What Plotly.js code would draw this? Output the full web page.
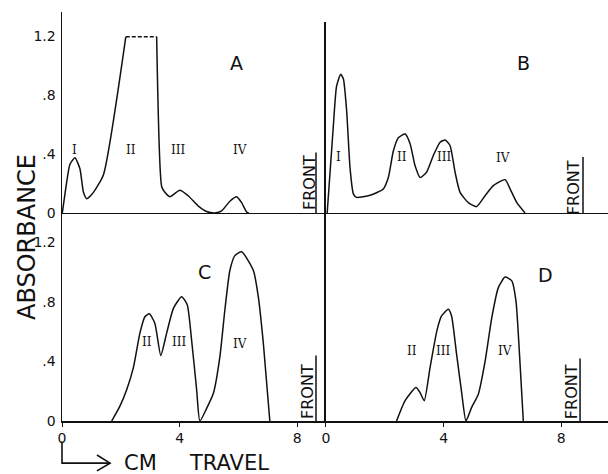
<!DOCTYPE html>
<html>
<head>
<meta charset="utf-8">
<script src="https://cdn.plot.ly/plotly-3.0.1.min.js"></script>
<style>html,body{margin:0;padding:0;background:#fff;}</style>
</head>
<body>
<div id="chart" style="width:608px;height:474px;"></div>
<script>
// ---- Data (cm travel vs absorbance) ----
// Panel A
const aX1 = [0.01, 0.16, 0.27, 0.44, 0.61, 0.73, 0.84, 1.07, 1.41, 2.17];
const aY1 = [0, 0.21, 0.33, 0.375, 0.30, 0.14, 0.097, 0.14, 0.26, 1.195];
const aPlateauX = [2.17, 3.22];
const aPlateauY = [1.195, 1.195];
const aX2 = [3.22, 3.39, 3.50, 3.67, 4.01, 4.30, 4.64, 4.92, 5.20, 5.43, 5.71, 5.94, 6.11, 6.28, 6.35];
const aY2 = [1.195, 0.18, 0.14, 0.11, 0.154, 0.115, 0.047, 0.01, 0, 0.014, 0.08, 0.11, 0.07, 0.007, 0];
// Panel B
const bX = [0.04, 0.25, 0.36, 0.50, 0.59, 0.70, 0.82, 0.93, 1.04, 1.50, 1.95, 2.12, 2.29, 2.46, 2.69, 2.86, 3.03, 3.20, 3.42, 3.65, 3.88, 4.05, 4.22, 4.39, 4.56, 4.84, 5.12, 5.41, 5.69, 6.09, 6.26, 6.49, 6.77];
const bY = [0, 0.59, 0.86, 0.94, 0.91, 0.70, 0.30, 0.13, 0.106, 0.12, 0.163, 0.24, 0.42, 0.51, 0.535, 0.47, 0.32, 0.24, 0.276, 0.39, 0.48, 0.495, 0.456, 0.276, 0.14, 0.07, 0.043, 0.117, 0.185, 0.226, 0.163, 0.07, 0];
// Panel C
const cX = [1.69, 1.97, 2.20, 2.43, 2.65, 2.82, 2.97, 3.16, 3.36, 3.56, 3.79, 4.07, 4.26, 4.41, 4.58, 4.69, 4.92, 5.15, 5.37, 5.54, 5.71, 5.88, 6.11, 6.51, 6.68, 6.85, 7.07];
const cY = [0, 0.10, 0.21, 0.36, 0.59, 0.70, 0.72, 0.655, 0.44, 0.59, 0.756, 0.834, 0.78, 0.54, 0.21, 0, 0.085, 0.186, 0.43, 0.745, 1.01, 1.11, 1.136, 1.01, 0.83, 0.52, 0];
// Panel D
const dX = [2.40, 2.69, 3.06, 3.20, 3.34, 3.54, 3.77, 3.93, 4.16, 4.27, 4.44, 4.62, 4.76, 4.95, 5.18, 5.41, 5.64, 5.86, 6.09, 6.32, 6.46, 6.58, 6.71];
const dY = [0, 0.136, 0.225, 0.19, 0.136, 0.36, 0.605, 0.705, 0.75, 0.705, 0.45, 0.18, 0, 0.09, 0.18, 0.40, 0.695, 0.895, 0.966, 0.94, 0.806, 0.45, 0];
// Solvent front positions (cm) and marker heights
const frontX = {A: 8.64, B: 8.74, C: 8.64, D: 8.64};
const frontH = {A: 0.41, B: 0.38, C: 0.44, D: 0.42};
// Tick labels
const xTickVals = [0, 4, 8];
const xTickText = ['0', '4', '8'];
const yTickVals = [0, 0.4, 0.8, 1.2];
const yTickText = ['0', '.4', '.8', '1.2'];
// Peak labels
const romanA = [{t:'I', x:0.44, y:0.43}, {t:'II', x:2.35, y:0.43}, {t:'III', x:3.96, y:0.43}, {t:'IV', x:6.05, y:0.43}];
const romanB = [{t:'I', x:0.42, y:0.38}, {t:'II', x:2.57, y:0.38}, {t:'III', x:4.01, y:0.38}, {t:'IV', x:6.01, y:0.375}];
const romanC = [{t:'II', x:2.88, y:0.53}, {t:'III', x:3.98, y:0.53}, {t:'IV', x:6.05, y:0.52}];
const romanD = [{t:'II', x:2.91, y:0.47}, {t:'III', x:3.99, y:0.47}, {t:'IV', x:6.09, y:0.47}];

const LINE = {color: '#111', width: 1.5, shape: 'spline', smoothing: 0.55};
function curve(x, y, xa, ya, extra) {
  return Object.assign({x: x, y: y, xaxis: xa, yaxis: ya, type: 'scatter', mode: 'lines',
    line: Object.assign({}, LINE), hoverinfo: 'skip'}, extra || {});
}
function front(fx, h, xa, ya) {
  return {x: [fx, fx], y: [0, h], xaxis: xa, yaxis: ya, type: 'scatter', mode: 'lines',
    line: {color: '#111', width: 1.5}, hoverinfo: 'skip'};
}

const traces = [
  curve(aX1, aY1, 'x3', 'y3'),
  {x: aPlateauX, y: aPlateauY, xaxis: 'x3', yaxis: 'y3', type: 'scatter', mode: 'lines',
   line: {color: '#111', width: 1.7, dash: '4px,2px'}, hoverinfo: 'skip'},
  curve(aX2, aY2, 'x3', 'y3'),
  curve(bX, bY, 'x4', 'y4'),
  curve(cX, cY, 'x', 'y'),
  curve(dX, dY, 'x2', 'y2'),
  front(frontX.A, frontH.A, 'x3', 'y3'),
  front(frontX.B, frontH.B, 'x4', 'y4'),
  front(frontX.C, frontH.C, 'x', 'y'),
  front(frontX.D, frontH.D, 'x2', 'y2')
];

const FONT = 'DejaVu Sans, Liberation Sans, sans-serif';
const axisBase = {showline: true, linecolor: '#111', linewidth: 1.5, showgrid: false, zeroline: false,
  fixedrange: true, tickfont: {family: FONT, size: 14, color: '#111'}};
const LD = [0, 0.4835], RD = [0.4835, 1];
const BD = [0, 0.5086];

const annotations = [];
function romans(list, xa, ya) {
  list.forEach(r => annotations.push({x: r.x, y: r.y, xref: xa, yref: ya, text: r.t, showarrow: false,
    font: {family: 'DejaVu Serif, Liberation Serif, serif', size: 12, color: '#111'}}));
}
romans(romanA, 'x3', 'y3'); romans(romanB, 'x4', 'y4'); romans(romanC, 'x', 'y'); romans(romanD, 'x2', 'y2');
function letter(t, x, y, xa, ya) {
  annotations.push({x: x, y: y, xref: xa, yref: ya, text: t, showarrow: false,
    font: {family: FONT, size: 19, color: '#111'}});
}
letter('A', 5.95, 1.02, 'x3', 'y3');
letter('B', 6.70, 1.02, 'x4', 'y4');
letter('C', 4.86, 1.00, 'x', 'y');
letter('D', 7.45, 0.98, 'x2', 'y2');
function frontText(x, y, xa, ya) {
  annotations.push({x: x, y: y, xref: xa, yref: ya, text: 'FRONT', textangle: -90, showarrow: false,
    xanchor: 'center', yanchor: 'middle', font: {family: FONT, size: 16, color: '#111'}});
}
frontText(8.40, 0.21, 'x3', 'y3');
frontText(8.44, 0.17, 'x4', 'y4');
frontText(8.37, 0.195, 'x', 'y');
frontText(8.33, 0.20, 'x2', 'y2');
annotations.push({x: -0.064, y: 0.45, xref: 'paper', yref: 'paper', text: 'ABSORBANCE', textangle: -90,
  xanchor: 'center', yanchor: 'middle', showarrow: false, font: {family: FONT, size: 24, color: '#111'}});
annotations.push({x: 0.11, y: -0.103, xref: 'paper', yref: 'paper', text: 'CM', xanchor: 'left', yanchor: 'middle',
  showarrow: false, font: {family: FONT, size: 21, color: '#111'}});
annotations.push({x: 0.229, y: -0.103, xref: 'paper', yref: 'paper', text: 'TRAVEL', xanchor: 'left', yanchor: 'middle',
  showarrow: false, font: {family: FONT, size: 21, color: '#111'}});

const layout = {
  width: 608, height: 474,
  margin: {l: 62, r: 0, t: 12, b: 53, pad: 0},
  paper_bgcolor: '#fff', plot_bgcolor: 'rgba(0,0,0,0)',
  showlegend: false,
  xaxis: Object.assign({}, axisBase, {domain: LD, range: [0, 8.98], anchor: 'y', tickvals: xTickVals, ticktext: xTickText, ticks: 'outside', ticklen: 4, tickcolor: '#111'}),
  yaxis: Object.assign({}, axisBase, {domain: BD, range: [0, 1.396], anchor: 'x', tickvals: yTickVals, ticktext: yTickText, ticks: '', ticklabelstandoff: 2}),
  xaxis2: Object.assign({}, axisBase, {domain: RD, range: [0, 9.59], anchor: 'y2', tickvals: xTickVals, ticktext: xTickText, ticks: 'outside', ticklen: 4, tickcolor: '#111'}),
  yaxis2: Object.assign({}, axisBase, {domain: BD, range: [0, 1.396], anchor: 'x2', showticklabels: false, ticks: ''}),
  xaxis3: Object.assign({}, axisBase, {domain: LD, range: [0, 8.98], anchor: 'y3', showticklabels: false, ticks: ''}),
  yaxis3: Object.assign({}, axisBase, {domain: [0.5086, 1], range: [0, 1.363], anchor: 'x3', tickvals: yTickVals, ticktext: yTickText, ticks: '', ticklabelstandoff: 2}),
  xaxis4: Object.assign({}, axisBase, {domain: RD, range: [0, 9.59], anchor: 'y4', showticklabels: false, ticks: ''}),
  yaxis4: Object.assign({}, axisBase, {domain: [0.5086, 0.9756], range: [0, 1.295], anchor: 'x4', showticklabels: false, ticks: ''}),
  annotations: annotations,
  shapes: [
    // "travel direction" arrow below the x axis
    {type: 'path', xref: 'paper', yref: 'paper', path: 'M 0,-0.05 L 0,-0.103 L 0.088,-0.103', line: {color: '#111', width: 1.6}},
    {type: 'path', xref: 'paper', yref: 'paper', path: 'M 0.064,-0.083 L 0.088,-0.103 L 0.064,-0.122', line: {color: '#111', width: 1.6}}
  ]
};

Plotly.newPlot('chart', traces, layout, {staticPlot: true, displayModeBar: false});
</script>
</body>
</html>
